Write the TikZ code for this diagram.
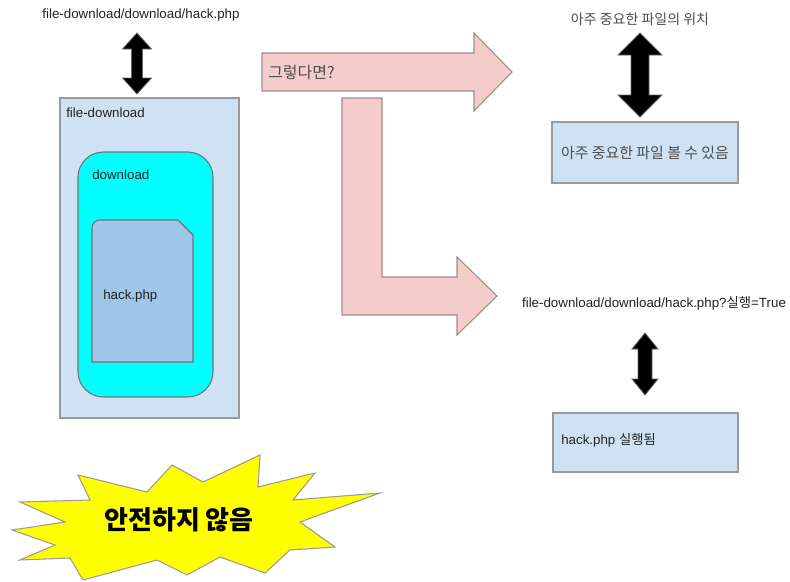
\documentclass[tikz,border=0pt]{standalone}
\usepackage{fontspec}
\setmainfont{Liberation Sans}
\newfontfamily\kr{Noto Sans CJK KR}
\definecolor{paleblue}{HTML}{CFE2F3}
\definecolor{fileblue}{HTML}{9FC5E8}
\definecolor{pinkfill}{HTML}{F4CCCC}
\definecolor{aqua}{HTML}{00FFFF}
\definecolor{burst}{HTML}{FFFF00}
\definecolor{edgegray}{HTML}{9A9A9A}
\definecolor{pinkedge}{HTML}{A08C8C}
\definecolor{txt}{HTML}{222222}
% vertical double-headed block arrow: centre x, top y, bottom y, half head width, half shaft width, head length
\newcommand\vdblarrow[6]{%
  \draw[blockarrow] (#1,#2) -- (#1+#4,#2+#6) -- (#1+#5,#2+#6) -- (#1+#5,#3-#6)
    -- (#1+#4,#3-#6) -- (#1,#3) -- (#1-#4,#3-#6) -- (#1-#5,#3-#6)
    -- (#1-#5,#2+#6) -- (#1-#4,#2+#6) -- cycle;}
\begin{document}
\begin{tikzpicture}[x=0.75pt,y=-0.75pt,
  txtlabel/.style={inner sep=0pt,text=txt,font=\fontsize{10}{12}\selectfont},
  krlabel/.style={inner sep=0pt,text=txt!80,font=\kr\fontsize{10.5}{12}\selectfont},
  paneltone/.style={draw=edgegray,fill=paleblue,line width=0.8pt},
  blockarrow/.style={draw=black!60,fill=black,line width=0.6pt},
  pinkarrow/.style={draw=pinkedge,fill=pinkfill,line width=0.8pt}]
\path[fill=white] (0,0) rectangle (790,582);
\useasboundingbox (0,0) rectangle (790,582);

% left: folder structure
\node[txtlabel] (path) at (141,15) {file-download/download/hack.php};
\vdblarrow{137}{33}{94}{14.5}{5.5}{16}
\draw[paneltone] (60,98) rectangle (239,418);
\node[txtlabel,anchor=west] (outer) at (66,113) {file-download};
\draw[fill=aqua,draw=black!55,line width=0.8pt,rounded corners=19] (78,152) rectangle (213,397);
\node[txtlabel,anchor=west] (inner) at (92,175) {download};
\draw[fill=fileblue,draw=black!55,line width=0.8pt] (92,300) [rounded corners=6] -- (92,220) -- (150,220)
  [sharp corners] -- (178,220) -- (193,235) -- (193,362) -- (92,362) -- cycle;
\node[txtlabel,anchor=west] (file) at (103,296) {hack.php};

% pink block arrows
\draw[pinkarrow] (262,53) -- (474,53) -- (474,33) -- (512,72) -- (474,111) -- (474,91) -- (262,91) -- cycle;
\node[krlabel,anchor=west,font=\kr\fontsize{12}{14}\selectfont] (q) at (268,73) {그렇다면?};
\draw[pinkarrow] (342,98) -- (382,98) -- (382,277) -- (457,277) -- (457,257) -- (497,296)
  -- (457,335) -- (457,315) -- (342,315) -- cycle;

% right top
\node[krlabel] (loc) at (640,19) {아주 중요한 파일의 위치};
\vdblarrow{640}{33}{117}{22}{9}{22}
\draw[paneltone] (552,122) rectangle (738,183);
\node[krlabel,font=\kr\fontsize{11.2}{13}\selectfont] (see) at (645,153) {아주 중요한 파일 볼 수 있음};

% right bottom
\node[txtlabel] (url) at (654,303) {file-download/download/hack.php?{\kr 실행}=True};
\vdblarrow{645}{333}{395}{13}{7}{16}
\draw[paneltone] (553,413) rectangle (738,472);
\node[txtlabel,anchor=west] (run) at (561,440) {hack.php {\kr 실행됨}};

% warning burst
\draw[fill=burst,draw=edgegray,line width=0.8pt]
  (12,530) -- (65,522) -- (20,502) -- (90,500) -- (78,475) -- (147,492) -- (172,465)
  -- (203,482) -- (260,455) -- (258,487) -- (315,473) -- (293,500) -- (380,493)
  -- (300,522) -- (335,547) -- (290,550) -- (265,573) -- (220,557) -- (187,575)
  -- (157,560) -- (83,580) -- (70,558) -- (20,560) -- (55,545) -- cycle;
\node[inner sep=0pt,font=\kr\bfseries\fontsize{19.5}{22}\selectfont] (unsafe) at (179,520) {안전하지 않음};
\end{tikzpicture}
\end{document}
